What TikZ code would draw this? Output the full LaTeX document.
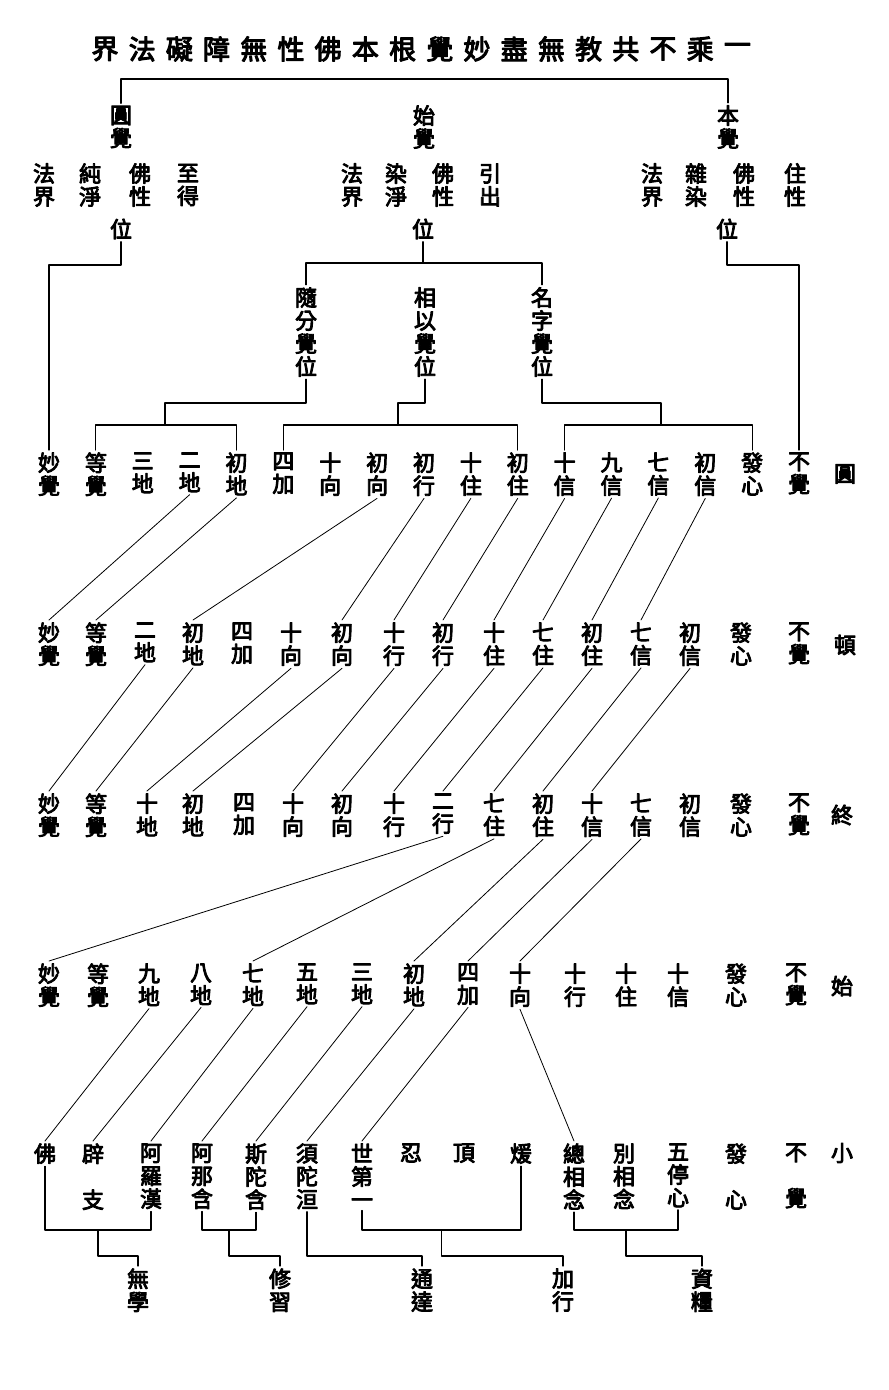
\documentclass[tikz,border=0pt]{standalone}
\usepackage{fontspec}
\newfontfamily\cjk{Noto Sans CJK TC}[FakeBold=4]
\usetikzlibrary{calc}

\begin{document}
\begin{tikzpicture}[x=1pt,y=-1pt,line join=round,line cap=round,line width=1.1pt]
	\tikzset{every node/.style={font=\cjk\fontsize{22}{23}\selectfont,align=center,inner sep=2pt},
		word/.style={anchor=north},
		head/.style={font=\cjk\fontsize{27}{27}\selectfont}}
	\useasboundingbox (0,0) rectangle (889,1390);
	\foreach \c [count=\i from 0] in {界,法,礙,障,無,性,佛,本,根,覺,妙,盡,無,教,共,不,乘,一}
	\node[head] (t\i) at ({105+37.2*\i},49) {\c};
	\node (yj) at (121,127) {圓\\覺};
	\node (sj) at (424,127) {始\\覺};
	\node (bj) at (728,127) {本\\覺};
	\draw (yj.north) -- (yj.north |- 0,79) -- (bj.north |- 0,79) -- (bj.north);
	\foreach \x/\t [count=\i] in {44/法\\界,90/純\\淨,140/佛\\性,188/至\\得}
	\node (yc\i) at (\x,185) {\t};
	\foreach \x/\t [count=\i] in {352/法\\界,396/染\\淨,443/佛\\性,490/引\\出}
	\node (sc\i) at (\x,185) {\t};
	\foreach \x/\t [count=\i] in {652/法\\界,696/雜\\染,744/佛\\性,795/住\\性}
	\node (bc\i) at (\x,185) {\t};
	\node (yw) at (121,229) {位};
	\node (sw) at (423,229) {位};
	\node (bw) at (727,229) {位};
	\node (g1) at (306,332) {隨\\分\\覺\\位};
	\node (g2) at (425,332) {相\\以\\覺\\位};
	\node (g3) at (542,332) {名\\字\\覺\\位};
	\foreach \t [count=\i from 0] in {妙\\覺,等\\覺,三\\地,二\\地,初\\地,四\\加,十\\向,初\\向,初\\行,十\\住,初\\住,十\\信,九\\信,七\\信,初\\信,發\\心,不\\覺}
	\node[word] (a\i) at ({49+46.875*\i},450) {\t};
	\foreach \x/\t [count=\i from 0] in {49/妙\\覺,96/等\\覺,145/二\\地,193/初\\地,242/四\\加,291/十\\向,342/初\\向,394/十\\行,443/初\\行,494/十\\住,543/七\\住,592/初\\住,641/七\\信,690/初\\信,741/發\\心,799/不\\覺}
	\node[word] (b\i) at (\x,620) {\t};
	\foreach \x/\t [count=\i from 0] in {49/妙\\覺,96/等\\覺,147/十\\地,193/初\\地,244/四\\加,293/十\\向,342/初\\向,394/十\\行,443/二\\行,494/七\\住,543/初\\住,592/十\\信,641/七\\信,690/初\\信,741/發\\心,799/不\\覺}
	\node[word] (c\i) at (\x,791) {\t};
	\foreach \x/\t [count=\i from 0] in {49/妙\\覺,98/等\\覺,149/九\\地,201/八\\地,253/七\\地,307/五\\地,362/三\\地,414/初\\地,468/四\\加,520/十\\向,575/十\\行,626/十\\住,678/十\\信,736/發\\心,796/不\\覺}
	\node[word] (d\i) at (\x,961) {\t};
	\foreach \x/\t [count=\i from 0] in {45/佛,93/辟\\~\\支,151/阿\\羅\\漢,202/阿\\那\\含,256/斯\\陀\\含,307/須\\陀\\洹,362/世\\第\\一,411/忍,464/頂,521/煖,574/總\\相\\念,624/別\\相\\念,678/五\\停\\心,736/發\\~\\心,796/不\\~\\覺}
	\node[word] (e\i) at (\x,1141) {\t};
	\node (ly) at (845,474) {圓};
	\node (ld) at (845,645) {頓};
	\node (lz) at (842,815) {終};
	\node (ls) at (842,986) {始};
	\node (lx) at (842,1153) {小};
	\foreach \x/\t [count=\i] in {138/無\\學,280/修\\習,422/通\\達,563/加\\行,702/資\\糧}
	\node[word] (k\i) at (\x,1266) {\t};
	\draw (yw.south) |- (49,265) -- (a0.north);
	\draw (bw.south) |- (a16.north |- 0,265) -- (a16.north);
	\draw (sw.south) -- (sw.south |- 0,263);
	\draw (g1.north) -- (g1.north |- 0,263) -- (g3.north |- 0,263) -- (g3.north);
	\draw (g1.south) |- (165,403) -- (165,425);
	\draw (a1.north) -- (a1.north |- 0,425) -- (a4.north |- 0,425) -- (a4.north);
	\draw (g2.south) |- (398,403) -- (398,425);
	\draw (a5.north) -- (a5.north |- 0,425) -- (a10.north |- 0,425) -- (a10.north);
	\draw (g3.south) |- (661,403) -- (661,425);
	\draw (a11.north) -- (a11.north |- 0,425) -- (a15.north |- 0,425) -- (a15.north);
	\foreach \u/\v in {3/0,4/1,7/3,8/6,9/7,10/8,11/9,12/10,13/11,14/12}
	\draw[line width=.8pt] (a\u.south) -- (b\v.north);
	\foreach \u/\v in {2/0,3/1,5/2,6/3,7/5,8/6,9/7,10/8,11/9,12/10,13/11}
	\draw[line width=.8pt] (b\u.south) -- (c\v.north);
	\foreach \u/\v in {8/0,9/4,10/7,11/8,12/9}
	\draw[line width=.8pt] (c\u.south) -- (d\v.north);
	\foreach \u/\v in {2/0,3/1,4/2,5/3,6/4,7/5,8/6,9/10}
	\draw[line width=.8pt] (d\u.south) -- (e\v.north);
	\draw (e0.south) -- (e0.south |- 0,1230) -- (e2.south |- 0,1230) -- (e2.south);
	\draw (e3.south) -- (e3.south |- 0,1230) -- (e4.south |- 0,1230) -- (e4.south);
	\draw (e6.south) -- (e6.south |- 0,1230) -- (e9.south |- 0,1230) -- (e9.south);
	\draw (e10.south) -- (e10.south |- 0,1230) -- (e12.south |- 0,1230) -- (e12.south);
	\coordinate (m1) at ($(e0.south)!.5!(e2.south)$);
	\coordinate (m2) at ($(e3.south)!.5!(e4.south)$);
	\coordinate (m3) at ($(e6.south)!.5!(e9.south)$);
	\coordinate (m4) at ($(e10.south)!.5!(e12.south)$);
	\draw (m1 |- 0,1230) |- (k1.north |- 0,1256) -- (k1.north);
	\draw (m2 |- 0,1230) |- (k2.north |- 0,1256) -- (k2.north);
	\draw (e5.south) |- (k3.north |- 0,1256) -- (k3.north);
	\draw (m3 |- 0,1230) |- (k4.north |- 0,1256) -- (k4.north);
	\draw (m4 |- 0,1230) |- (k5.north |- 0,1256) -- (k5.north);
\end{tikzpicture}
\end{document}
